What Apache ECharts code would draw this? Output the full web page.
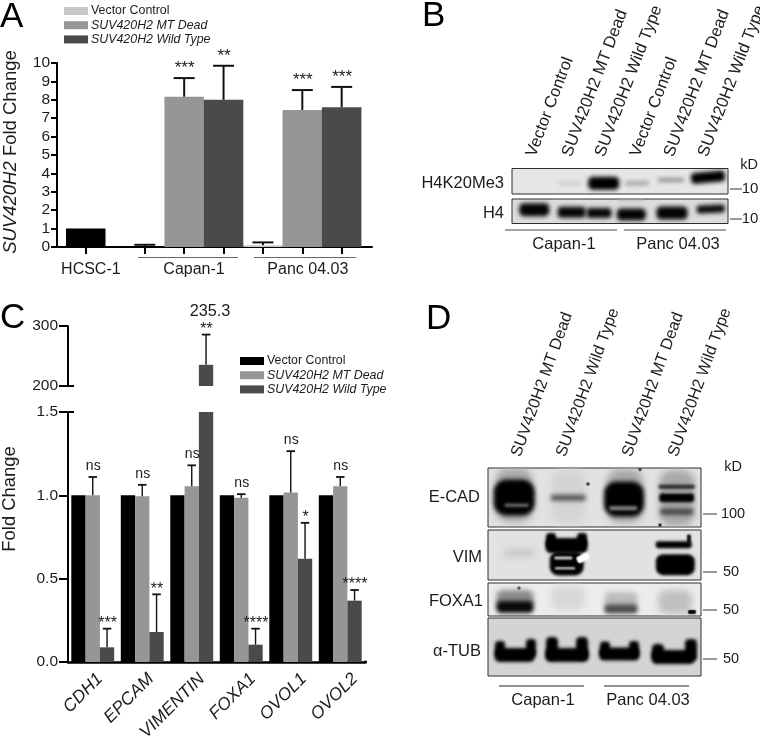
<!DOCTYPE html>
<html><head><meta charset="utf-8">
<style>html,body{margin:0;padding:0;background:#fff}#c{width:760px;height:736px}</style>
<script src="https://cdn.jsdelivr.net/npm/echarts@6/dist/echarts.min.js"></script>
</head><body><div id="c"></div>
<script>
// ---------- Panel A data ----------
const seriesNames = ['Vector Control', 'SUV420H2 MT Dead', 'SUV420H2 Wild Type'];
const aVectorX = [0.73, 2.23, 5.23];
const aVector = [1.0, 0.05, 0.1];
const aVectorErr = [null, 0.12, 0.25];
const aDeadX = [3.23, 6.23];
const aDead = [8.17, 7.45];
const aDeadErr = [9.18, 8.53];
const aDeadStars = ['***', '***'];
const aWildX = [4.23, 7.23];
const aWild = [8.0, 7.6];
const aWildErr = [9.85, 8.7];
const aWildStars = ['**', '***'];
const aGroupNames = ['HCSC-1', 'Capan-1', 'Panc 04.03'];
const aGroupLabelX = [0.86, 3.48, 6.37];
const aTicks = [0.73, 2.23, 3.23, 4.23, 5.23, 6.23, 7.23];

// ---------- Panel C data ----------
const cGenes = ['CDH1', 'EPCAM', 'VIMENTIN', 'FOXA1', 'OVOL1', 'OVOL2'];
const cVector = [1, 1, 1, 1, 1, 1];
const cDead = [1.0, 0.995, 1.055, 0.985, 1.017, 1.055];
const cDeadErr = [1.11, 1.063, 1.18, 1.007, 1.265, 1.11];
const cDeadMarks = ['ns', 'ns', 'ns', 'ns', 'ns', 'ns'];
const cWild = [0.088, 0.18, 235.3, 0.104, 0.62, 0.368];
const cWildErr = [0.2, 0.406, 285.7, 0.2, 0.835, 0.432];
const cWildMarks = ['***', '**', '**', '****', '*', '****'];

// ---------- Blot labels ----------
const bLanes = ['Vector Control', 'SUV420H2 MT Dead', 'SUV420H2 Wild Type', 'Vector Control', 'SUV420H2 MT Dead', 'SUV420H2 Wild Type'];
const dLanes = ['SUV420H2 MT Dead', 'SUV420H2 Wild Type', 'SUV420H2 MT Dead', 'SUV420H2 Wild Type'];

// ---------- Blot bands: centre x, centre y, width, height, colour, blur, rotation ----------
const bH4K20 = [
  [58, 14.7, 22, 3, '#c4c4c4', 4], [125, 14.7, 24, 4, '#a0a0a0', 4], [159, 11.5, 26, 4, '#909090', 4],
  [91.7, 14.7, 31, 13, '#000', 4], [196, 8.7, 34, 11, '#000', 4, 0.09]
];
const bH4 = [
  [119, 0.5, 25, 2, '#aaa', 3],
  [22.3, 10.7, 30, 13, '#050505', 4], [59.7, 13.3, 28, 11, '#080808', 4], [87, 14, 25, 10, '#080808', 4],
  [119.3, 15.5, 29, 12, '#050505', 4], [160, 14, 31, 13, '#050505', 4], [198.8, 10, 28, 8, '#0a0a0a', 4, 0.05]
];
const dEcad = [
  [26.3, 27, 37, 54, '#a8a8a8', 7], [80.5, 29, 34, 54, '#d4d4d4', 7], [137, 28, 36, 54, '#a8a8a8', 7], [189, 30, 35, 56, '#a8a8a8', 7],
  [26.2, 29.5, 41, 36, '#000', 4], [28.7, 37.3, 24, 3, '#777', 3],
  [80.3, 29.7, 35, 6, '#555', 4],
  [136, 31, 40, 35, '#000', 4], [135.3, 40.3, 28, 4, '#888', 3],
  [188.7, 18.7, 36, 4, '#222', 3], [188.7, 29.7, 35, 9, '#000', 3], [188.7, 24, 26, 2, '#999', 2], [188.7, 43.7, 33, 6, '#444', 4],
  [100, 16, 3, 3, '#222', 1], [152, 1.5, 3, 3, '#333', 1], [172, 57, 3, 3, '#111', 1]
];
const dVim = [
  [31, 23, 30, 7, '#c4c4c4', 7],
  [78.5, 15.5, 42, 15, '#000', 3], [63, 10, 10, 14, '#000', 3], [94, 10, 10, 14, '#000', 3], [78.7, 33.5, 34, 24, '#000', 3],
  [75.3, 28, 18, 3, '#c8c8c8', 2], [77, 38.3, 20, 2.5, '#b8b8b8', 2], [95, 28, 13, 7, '#ffffff', 1.5, 0.45],
  [185.7, 14.7, 36, 7, '#000', 3], [201, 9, 4, 9, '#111', 2], [187.3, 34.7, 39, 21, '#000', 3]
];
const dFoxa = [
  [80, 15, 34, 24, '#d8d8d8', 7], [187, 19, 34, 24, '#c0c0c0', 7],
  [27, 16, 37, 18, '#8c8c8c', 5], [27, 24, 37, 12, '#0a0a0a', 4],
  [133, 17, 33, 16, '#bcbcbc', 5], [133, 26, 33, 9, '#4a4a4a', 4],
  [204, 29, 8, 4, '#000', 1.5], [31, 5, 3, 3, '#444', 1]
];
const dTub = [
  [26.7, 37, 40, 14, '#000', 3.5], [12, 31, 10, 16, '#000', 3.5], [43, 30, 10, 18, '#000', 3.5],
  [79, 37, 43, 14, '#000', 3.5], [64, 30, 12, 22, '#000', 3.5], [94, 30, 12, 22, '#000', 3.5],
  [131.3, 36, 40, 13, '#000', 3.5], [117, 31, 10, 15, '#000', 3.5], [146, 31, 10, 16, '#000', 3.5],
  [185, 39, 43, 14, '#000', 3.5], [170, 34, 12, 16, '#000', 3.5], [203, 32, 12, 22, '#000', 3.5]
];

// ---------- Layout and styling ----------
const FONT = '"Liberation Sans", Arial, sans-serif';
const INK = '#1c1c1c';
const GREY = '#969696', DARK = '#4a4a4a';
const OFF = 1500;

const grids = [], xAxes = [], yAxes = [], series = [], graphics = [];

function txt(x, y, text, o) {
  o = o || {};
  const el = { type: 'text', x: x, y: y, rotation: o.rot || 0, z: 20, silent: true,
    style: { text: text, fill: o.fill || INK, fontFamily: FONT, fontSize: o.size || 16.5, fontStyle: o.style || 'normal',
      align: o.align || 'center', verticalAlign: 'middle', textAlign: o.align || 'center', textVerticalAlign: 'middle' } };
  if (o.rich) el.style.rich = o.rich;
  graphics.push(el);
}
function line(x1, y1, x2, y2, color, w) {
  graphics.push({ type: 'line', z: 20, silent: true, shape: { x1, y1, x2, y2 }, style: { stroke: color || '#333', lineWidth: w || 1 } });
}

function errorSeries(xIdx, yIdx, rows, marks, o) {
  return { type: 'custom', xAxisIndex: xIdx, yAxisIndex: yIdx, z: 6, clip: false, silent: true,
    data: rows, encode: { x: 0, y: 1 },
    renderItem: function (params, api) {
      const r = rows[params.dataIndex];
      const base = api.coord([api.value(0), r[3]]);
      const top = api.coord([api.value(0), api.value(1)]);
      const cx = base[0] + (r[2] || 0) * o.step;
      const mark = marks[params.dataIndex];
      const star = mark.indexOf('*') >= 0;
      const kids = [
        { type: 'line', shape: { x1: cx, y1: top[1], x2: cx, y2: base[1] }, style: { stroke: '#111', lineWidth: o.stem } },
        { type: 'line', shape: { x1: cx - o.cap / 2, y1: top[1], x2: cx + o.cap / 2, y2: top[1] }, style: { stroke: '#111', lineWidth: o.capW } }
      ];
      if (mark) kids.push({ type: 'text', x: cx + 0.5, y: top[1] - (star ? o.starUp : o.nsUp),
        style: { text: mark, fill: INK, fontFamily: FONT, fontSize: star ? o.starSize : o.nsSize, align: 'center', verticalAlign: 'middle' } });
      return { type: 'group', children: kids };
    } };
}

// ---------- Panel A ----------
grids.push({ left: 57, top: 63, width: 315, height: 184 });
xAxes.push({ gridIndex: 0, type: 'value', min: 0, max: 8, splitLine: { show: false },
  axisLine: { lineStyle: { color: '#000', width: 2 } },
  axisTick: { show: true, customValues: aTicks, length: 7, lineStyle: { color: '#000', width: 2 } },
  axisLabel: { customValues: aGroupLabelX, margin: 15, color: INK, fontFamily: FONT, fontSize: 16,
    formatter: function (v) { return aGroupNames[aGroupLabelX.indexOf(v)]; } } });
yAxes.push({ gridIndex: 0, type: 'value', min: 0, max: 10, interval: 1, splitLine: { show: false },
  axisLine: { show: true, lineStyle: { color: '#000', width: 2 } },
  axisTick: { show: true, length: 6, lineStyle: { color: '#000', width: 2 } },
  axisLabel: { margin: 7, color: INK, fontFamily: FONT, fontSize: 15.5 } });
function barsA(name, xs, ys, color, perItem) {
  return { type: 'bar', name: name, xAxisIndex: 0, yAxisIndex: 0, barWidth: 39.5, barGap: '-100%', silent: true, z: 3,
    itemStyle: { color: color },
    data: xs.map(function (x, i) { const d = { value: [x, ys[i]] }; if (perItem) d.itemStyle = { color: perItem[i] }; return d; }) };
}
series.push(barsA(seriesNames[0], aVectorX, aVector, '#000', ['#000', '#000', '#c8c8c8']));
series.push(barsA(seriesNames[1], aDeadX, aDead, GREY));
series.push(barsA(seriesNames[2], aWildX, aWild, DARK));
const aOpts = { step: 0, stem: 2, cap: 21, capW: 2, starUp: 9.5, nsUp: 10, starSize: 17, nsSize: 14 };
const aErrRows = [], aErrMarks = [];
aVectorX.forEach(function (x, i) { if (aVectorErr[i] != null) { aErrRows.push([x, aVectorErr[i], 0, aVector[i]]); aErrMarks.push(''); } });
aDeadX.forEach(function (x, i) { aErrRows.push([x, aDeadErr[i], 0, aDead[i]]); aErrMarks.push(aDeadStars[i]); });
aWildX.forEach(function (x, i) { aErrRows.push([x, aWildErr[i], 0, aWild[i]]); aErrMarks.push(aWildStars[i]); });
series.push(errorSeries(0, 0, aErrRows, aErrMarks, aOpts));

// ---------- Panel C: lower and upper part of the broken axis ----------
const BAR = 14.3;
grids.push({ left: 68, top: 412, width: 297, height: 250 });
grids.push({ left: 68, top: 326, width: 297, height: 60 });
xAxes.push({ gridIndex: 1, type: 'category', data: cGenes, axisLabel: { show: false }, axisTick: { show: false },
  axisLine: { lineStyle: { color: '#000', width: 2.5 } } });
xAxes.push({ gridIndex: 2, type: 'category', data: cGenes, show: false });
yAxes.push({ gridIndex: 1, type: 'value', min: 0, max: 1.5, interval: 0.5, splitLine: { show: false },
  axisLine: { show: true, lineStyle: { color: '#000', width: 2 } },
  axisTick: { show: true, length: 9, lineStyle: { color: '#000', width: 2 } },
  axisLabel: { margin: 10, color: INK, fontFamily: FONT, fontSize: 15.5, formatter: function (v) { return v.toFixed(1); } } });
yAxes.push({ gridIndex: 2, type: 'value', min: 200, max: 300, interval: 100, splitLine: { show: false },
  axisLine: { show: true, lineStyle: { color: '#000', width: 2 } },
  axisTick: { show: true, length: 9, lineStyle: { color: '#000', width: 2 } },
  axisLabel: { margin: 10, color: INK, fontFamily: FONT, fontSize: 15.5 } });
[[1, 1], [2, 2]].forEach(function (g) {
  [[seriesNames[0], cVector, '#000'], [seriesNames[1], cDead, GREY], [seriesNames[2], cWild, DARK]].forEach(function (s) {
    series.push({ type: 'bar', name: s[0], xAxisIndex: g[0], yAxisIndex: g[1], barWidth: BAR, barGap: 0, silent: true, z: 3,
      clip: true, itemStyle: { color: s[2] }, data: s[1] });
  });
});
const cOpts = { step: BAR, stem: 1.4, cap: 8.5, capW: 1.8, starUp: 5, nsUp: 11, starSize: 16, nsSize: 14 };
const lowRows = [], lowMarks = [], upRows = [], upMarks = [];
cGenes.forEach(function (g, i) {
  lowRows.push([i, cDeadErr[i], 0, cDead[i]]); lowMarks.push(cDeadMarks[i]);
  if (cWildErr[i] <= 1.5) { lowRows.push([i, cWildErr[i], 1, cWild[i]]); lowMarks.push(cWildMarks[i]); }
  else { upRows.push([i, cWildErr[i], 1, cWild[i]]); upMarks.push(cWildMarks[i]); }
});
series.push(errorSeries(1, 1, lowRows, lowMarks, cOpts));
series.push(errorSeries(2, 2, upRows, upMarks, cOpts));
// gene labels run on a slightly wider band than the bars, as in the figure
grids.push({ left: 74.5, top: 662, width: 306, height: 1 });
xAxes.push({ gridIndex: 3, type: 'category', data: cGenes, axisLine: { show: false }, axisTick: { show: false },
  axisLabel: { interval: 0, rotate: 45, margin: 14, color: INK, fontFamily: FONT, fontStyle: 'italic', fontSize: 17.5 } });
yAxes.push({ gridIndex: 3, type: 'value', show: false });
series.push({ type: 'bar', xAxisIndex: 3, yAxisIndex: 3, data: [], silent: true });
txt(210, 312, String(cWild[2]), { size: 16.3 });
line(68, 386, 74, 386, '#000', 2);
line(68, 412, 74, 412, '#000', 2);
line(364, 662, 367, 662, '#000', 2.5);

// ---------- Blots ----------
function blot(left, top, width, height, bg, bands) {
  const idx = grids.length;
  grids.push({ show: true, left: left, top: top, width: width, height: height, backgroundColor: bg, borderColor: '#2e2e2e', borderWidth: 1 });
  xAxes.push({ gridIndex: idx, type: 'value', min: 0, max: width, show: false });
  yAxes.push({ gridIndex: idx, type: 'value', min: 0, max: height, inverse: true, show: false });
  series.push({ type: 'custom', xAxisIndex: idx, yAxisIndex: idx, clip: true, silent: true, data: bands, encode: { x: 0, y: 1 },
    renderItem: function (params, api) {
      const b = bands[params.dataIndex];
      const p = api.coord([b[0], b[1]]);
      return { type: 'rect', x: -OFF, y: 0, originX: p[0], originY: p[1], rotation: b[6] || 0,
        shape: { x: p[0] - b[2] / 2, y: p[1] - b[3] / 2, width: b[2], height: b[3], r: Math.min(b[2], b[3]) * 0.35 },
        style: { fill: b[4], shadowColor: b[4], shadowBlur: b[5], shadowOffsetX: OFF } };
    } });
}
blot(512, 168.5, 216, 25.5, '#e6e6e6', bH4K20);
blot(512, 199, 216, 24.5, '#dcdcdc', bH4);
blot(488, 468, 213, 59, '#e2e2e2', dEcad);
blot(488, 530, 213, 50, '#e2e2e2', dVim);
blot(488, 583, 213, 33, '#ececec', dFoxa);
blot(488, 618, 213, 58, '#d4d4d4', dTub);

// ---------- Text and rules ----------
txt(0, 17, 'A', { size: 35, align: 'left', fill: '#000' });
txt(422, 16.5, 'B', { size: 35, align: 'left', fill: '#000' });
txt(0, 318.5, 'C', { size: 35, align: 'left', fill: '#000' });
txt(426, 319, 'D', { size: 35, align: 'left', fill: '#000' });

const ITAL = { i: { fontStyle: 'italic', fontFamily: FONT, fontSize: 18.5, fill: INK } };
txt(11, 152, '{i|SUV420H2} Fold Change', { size: 18.5, rot: Math.PI / 2, rich: ITAL });
txt(10, 499, 'Fold Change', { size: 18.4, rot: Math.PI / 2 });
line(138, 257.5, 238, 257.5, '#666', 1);
line(254, 257.5, 356, 257.5, '#666', 1);

const STEEP = 69 * Math.PI / 180;
const bAnchorX = [531, 567, 600, 635, 669, 703];
bLanes.forEach(function (t, i) { txt(bAnchorX[i], 156, t, { size: 16.6, align: 'left', rot: STEEP }); });
txt(504, 183, 'H4K20Me3', { align: 'right' });
txt(504, 213, 'H4', { align: 'right' });
txt(749, 165, 'kD', { size: 14.5 });
line(730, 189, 742, 189); txt(750, 189, '10', { size: 15 });
line(730, 219, 742, 219); txt(750, 219, '10', { size: 15 });
line(505, 230, 617, 230, '#444'); line(624, 230, 726, 230, '#444');
txt(564, 244, 'Capan-1'); txt(678, 244, 'Panc 04.03');

const dAnchorX = [516, 561, 627, 673];
dLanes.forEach(function (t, i) { txt(dAnchorX[i], 456, t, { size: 16.2, align: 'left', rot: 70 * Math.PI / 180 }); });
txt(480, 497, 'E-CAD', { align: 'right' });
txt(482, 557, 'VIM', { align: 'right' });
txt(483, 601, 'FOXA1', { align: 'right' });
txt(481, 651, '\u03B1-TUB', { align: 'right' });
txt(733, 467, 'kD', { size: 14.5 });
[[514, '100', 733], [572, '50', 731], [610, '50', 731], [659, '50', 731]].forEach(function (m) {
  line(703, m[0], 717, m[0]); txt(m[2], m[0], m[1], { size: 14.5 });
});
line(499, 686, 584, 686, '#222'); line(604, 686, 689, 686, '#222');
txt(543, 700, 'Capan-1'); txt(648, 700, 'Panc 04.03');

function legendAt(left, top, colors) {
  return { left: left, top: top, orient: 'vertical', padding: 0, itemWidth: 24, itemHeight: 8, itemGap: 2.2, icon: 'rect',
    selectedMode: false, textStyle: { color: INK, fontFamily: FONT, fontSize: 12.4, padding: [0, 0, 0, -2] },
    data: seriesNames.map(function (n, i) {
      return { name: n, itemStyle: { color: colors[i] }, textStyle: { fontStyle: i ? 'italic' : 'normal', color: INK, fontFamily: FONT, fontSize: 12.4, padding: [0, 0, 0, -2] } };
    }) };
}

const chart = echarts.init(document.getElementById('c'), null, { renderer: 'canvas', width: 760, height: 736 });
chart.setOption({
  animation: false, backgroundColor: '#fff',
  legend: [legendAt(64, 5, ['#c8c8c8', GREY, DARK]), legendAt(240, 355, ['#000', GREY, DARK])],
  grid: grids, xAxis: xAxes, yAxis: yAxes, series: series, graphic: { elements: graphics }
});
</script></body></html>
